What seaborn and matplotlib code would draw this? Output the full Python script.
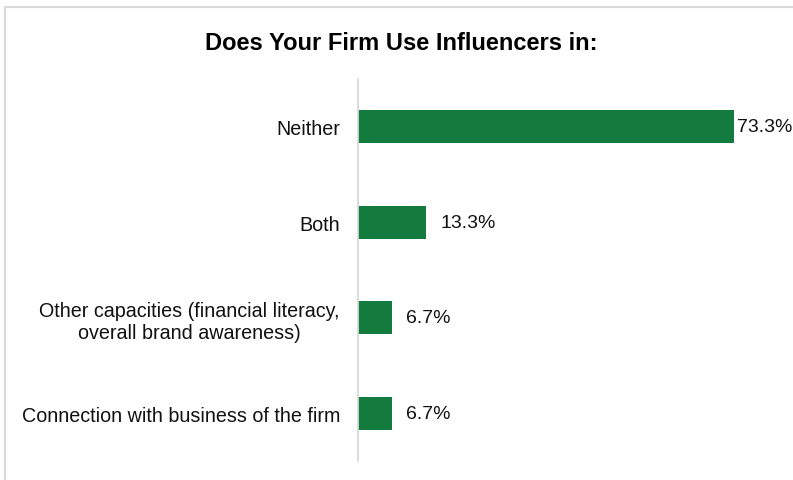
import matplotlib
matplotlib.use("Agg")
import matplotlib.pyplot as plt
from matplotlib.lines import Line2D
import seaborn as sns
import pandas as pd

categories = [
    "Neither",
    "Both",
    "Other capacities (financial literacy,\noverall brand awareness)",
    "Connection with business of the firm",
]
shares = [73.3, 13.3, 6.7, 6.7]
value_labels = ["73.3%", "13.3%", "6.7%", "6.7%"]
title = "Does Your Firm Use Influencers in:"

sns.set_theme(style="white")
plt.rcParams["font.family"] = ["Liberation Sans", "DejaVu Sans"]

df = pd.DataFrame({"category": categories, "share": shares})

fig = plt.figure(figsize=(7.93, 4.81), dpi=100)
ax = fig.add_axes([358 / 793, 19 / 481, 410.4 / 793, 382 / 481])

sns.barplot(data=df, x="share", y="category", color="#147b3f", width=0.35,
            saturation=1, linewidth=0, ax=ax)

ax.set_xlim(0, 80)
ax.set_xlabel("")
ax.set_ylabel("")
ax.set_xticks([])
ax.tick_params(axis="y", length=0, pad=13, labelsize=14.2, labelcolor="#111111")
for lbl in ax.get_yticklabels():
    lbl.set_multialignment("center")
for s in ("top", "right", "bottom"):
    ax.spines[s].set_visible(False)
ax.spines["left"].set_color("#d9d9d9")
ax.spines["left"].set_linewidth(1.3)

# value labels at the bar ends; the longest one sits tight against its bar
for patch, text, val in zip(ax.patches, value_labels, shares):
    y = patch.get_y() + patch.get_height() / 2
    offset = 2 if val == max(shares) else 10
    ax.annotate(text, xy=(val, y), xytext=(offset, 0), textcoords="offset points",
                ha="left", va="center", fontsize=14, color="#111111",
                annotation_clip=False)

fig.text(401 / 793, 1 - 43 / 481, title, ha="center", va="center",
         fontsize=17, fontweight="bold", color="#000000")

# light frame along the top and left edges
fig.add_artist(Line2D([5 / 793, 1], [1 - 8 / 481, 1 - 8 / 481],
                      transform=fig.transFigure, color="#d9d9d9", lw=1.5))
fig.add_artist(Line2D([5 / 793, 5 / 793], [0, 1 - 8 / 481],
                      transform=fig.transFigure, color="#d9d9d9", lw=1.5))

fig.savefig("out.png", dpi=100)
